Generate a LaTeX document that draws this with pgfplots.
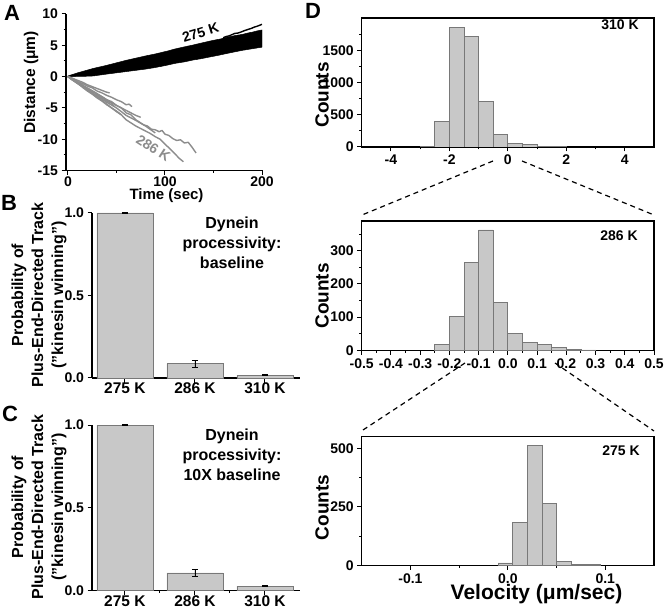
\documentclass[border=0pt]{standalone}
\usepackage{fontspec}
\setmainfont{Liberation Sans}
\usepackage{pgfplots}
\pgfplotsset{compat=1.18}
\newcommand\fs[2]{\fontsize{#1}{#2}\selectfont\bfseries}
\definecolor{barfill}{RGB}{200,200,200}
\definecolor{bardraw}{RGB}{120,120,120}
\definecolor{trace}{RGB}{140,140,140}
\pgfplotsset{
  mystyle/.style={
    scale only axis, enlargelimits=false,
    tick align=outside, tick pos=left,
    major tick length=4.5pt, minor tick length=2.5pt,
    tick style={black, line width=1pt},
    axis line style={black, line width=1.2pt},
    tick label style={font=\fs{14}{14}},
    /pgf/number format/assume math mode=true,
    /pgf/number format/1000 sep={},
  },
  barstyle/.style={ybar, bar width=0.8, fill=barfill, draw=bardraw, line width=0.8pt,
    error bars/.cd, y dir=both, y explicit,
    error bar style={black, line width=0.8pt},
    error mark options={black, rotate=90, mark size=3pt, line width=0.8pt}},
  histstyle/.style={ybar interval, fill=barfill, draw=bardraw, line width=0.8pt},
  tracestyle/.style={trace, line width=1.4pt, line join=round},
}
\begin{document}
\begin{tikzpicture}[x=1pt,y=1pt]
\useasboundingbox (0,0) rectangle (664,611);

% ---------------- Panel A ----------------
\begin{axis}[mystyle, at={(66pt,440.5pt)}, anchor=south west, width=196pt, height=156.5pt,
  axis x line*=bottom, axis y line*=left,
  xmin=-2, xmax=200, ymin=-15, ymax=10,
  xtick={0,100,200}, minor xtick={50,150},
  x tick label style={yshift=2pt},
  ytick={-15,-10,-5,0,5,10}, minor ytick={-12.5,-7.5,-2.5,2.5,7.5}]
\addplot[fill=black, draw=black, line width=0.5pt] coordinates {
 (0,0) (10,0.02) (18,0.05) (26,0.1) (33,0.25) (40,0.4) (50,0.6) (60,0.8) (70,1.0) (80,1.2)
 (88,1.4) (95,1.6) (103,1.85) (110,2.1) (120,2.35) (129,2.65) (137,2.85) (145,3.1) (155,3.4)
 (164,3.7) (172,3.95) (180,4.2) (190,4.45) (200,4.7)
 (200,7.45) (195,7.3) (190,7.1) (185,6.95) (180,6.75) (172,6.55) (164,6.3) (157,6.0) (150,5.8)
 (140,5.45) (129,5.05) (120,4.75) (110,4.4) (103,4.1) (95,3.8) (88,3.55) (80,3.3) (70,2.95)
 (60,2.6) (50,2.2) (40,1.8) (33,1.55) (26,1.3) (18,0.95) (10,0.6) (5,0.35) (0,0.1)
} -- cycle;
\addplot[black, line width=1.4pt] coordinates {
 (160,6.2) (163,6.4) (166,6.5) (169,6.7) (172,6.9) (175,6.95) (178,7.1) (182,7.35) (185,7.5)
 (189,7.7) (192,7.9) (196,8.1) (200,8.35)};
% 286 K traces
\addplot[tracestyle] coordinates {
 (0,0) (5,-0.5) (10,-1.0) (15,-1.4) (20,-2.0) (25,-2.3) (30,-2.9) (35,-3.2) (40,-3.7) (45,-4.0)
 (50,-4.6) (55,-5.0) (60,-5.8) (65,-6.1) (70,-6.9) (75,-7.4) (78,-7.7) (82,-7.9) (86,-8.4)
 (90,-8.5) (94,-8.8) (97,-8.6) (100,-9.2) (104,-9.4) (108,-9.9) (112,-10.2) (116,-10.1)
 (120,-10.6) (124,-10.5) (128,-11.3) (132,-12.2)};
\addplot[tracestyle] coordinates {
 (0,0) (5,-0.6) (10,-1.1) (15,-1.7) (20,-2.3) (25,-2.8) (30,-3.4) (35,-3.9) (40,-4.5) (45,-5.0)
 (50,-5.6) (55,-6.1) (60,-6.9) (65,-7.4) (70,-7.9) (75,-8.3) (80,-8.7) (85,-9.1) (90,-9.6)
 (95,-10.0) (100,-10.8) (105,-11.5) (110,-12.3) (115,-13.1) (119,-13.6)};
\addplot[tracestyle] coordinates {
 (0,0) (5,-0.5) (10,-1.0) (20,-2.1) (30,-3.1) (40,-4.1) (50,-5.0) (60,-6.2) (70,-7.0) (80,-7.9) (90,-9.0)};
\addplot[tracestyle] coordinates {
 (0,0) (5,-0.3) (10,-0.8) (15,-1.1) (20,-1.5) (25,-1.8) (30,-2.3) (35,-2.6) (40,-3.0) (45,-3.3)
 (50,-3.7) (55,-4.0) (60,-4.5) (63,-4.4) (66,-4.8)};
\addplot[tracestyle] coordinates {
 (0,0) (5,-0.3) (10,-0.6) (15,-0.9) (20,-1.3) (25,-1.6) (30,-1.9) (35,-2.2) (40,-2.5) (43,-2.6)};
\addplot[tracestyle] coordinates {
 (0,0) (5,-0.5) (10,-1.1) (15,-1.6) (20,-2.2) (25,-2.7) (30,-3.3) (35,-3.8) (40,-4.4) (45,-5.0) (50,-5.5) (55,-6.1)};
\addplot[tracestyle] coordinates {
 (0,0) (10,-0.9) (20,-1.8) (30,-2.7) (40,-3.7) (50,-4.6) (60,-5.4) (70,-6.2) (75,-6.5)};
\addplot[tracestyle] coordinates {
 (0,0) (4,-0.5) (8,-0.8) (12,-1.3) (16,-1.6) (20,-2.0) (24,-2.4) (28,-2.6) (32,-3.1) (36,-3.5) (40,-3.9) (44,-4.2) (48,-4.8)};
\addplot[tracestyle] coordinates {
 (0,0) (4,-0.4) (8,-0.9) (12,-1.2) (16,-1.8) (20,-2.1) (24,-2.6) (28,-3.0) (32,-3.4)};
\end{axis}

% ---------------- Panel B ----------------
\begin{axis}[mystyle, at={(92pt,233pt)}, anchor=south west, width=208pt, height=165pt,
  axis x line*=bottom, axis y line*=left, clip=false,
  xmin=-0.47, xmax=2.5, ymin=0, ymax=1,
  xtick={0,1,2}, xticklabels={275 K,286 K,310 K},
  x tick label style={font=\fs{15.5}{15.5}, yshift=3pt},
  ytick={0,0.5,1},
  yticklabel style={/pgf/number format/.cd, fixed, fixed zerofill, precision=1}]
\addplot[barstyle] coordinates {(0,1.0) +- (0,0.002) (1,0.087) +- (0,0.02) (2,0.016) +- (0,0.003)};
\end{axis}

% ---------------- Panel C ----------------
\begin{axis}[mystyle, at={(92pt,20.3pt)}, anchor=south west, width=208pt, height=165.7pt,
  axis x line*=bottom, axis y line*=left, clip=false,
  xmin=-0.47, xmax=2.5, ymin=0, ymax=1,
  xtick={0,1,2}, xticklabels={275 K,286 K,310 K}, minor xtick={0.5,1.5},
  x tick label style={font=\fs{15.5}{15.5}, yshift=3pt},
  ytick={0,0.5,1},
  yticklabel style={/pgf/number format/.cd, fixed, fixed zerofill, precision=1}]
\addplot[barstyle] coordinates {(0,1.0) +- (0,0.003) (1,0.107) +- (0,0.02) (2,0.028) +- (0,0.004)};
\end{axis}

% ---------------- Panel D top (310 K) ----------------
\begin{axis}[mystyle, at={(361.7pt,464pt)}, anchor=south west, width=292.3pt, height=129pt,
  xmin=-5, xmax=5, ymin=0, ymax=2000,
  xtick={-4,-2,0,2,4}, minor xtick={-3,-1,1,3},
  ytick={0,500,1000,1500}, minor ytick={250,750,1250,1750}]
\addplot[histstyle] coordinates {
 (-3.0,10) (-2.5,400) (-2.0,1850) (-1.5,1720) (-1.0,700) (-0.5,195) (0.0,52) (0.5,37) (1.0,12) (1.5,3) (2.0,0)};
\end{axis}

% ---------------- Panel D middle (286 K) ----------------
\begin{axis}[mystyle, at={(361.7pt,260.7pt)}, anchor=south west, width=292.3pt, height=129.3pt,
  xmin=-0.5, xmax=0.5, ymin=0, ymax=390,
  xtick={-0.5,-0.4,-0.3,-0.2,-0.1,0,0.1,0.2,0.3,0.4,0.5},
  minor xtick={-0.45,-0.35,-0.25,-0.15,-0.05,0.05,0.15,0.25,0.35,0.45},
  xticklabel style={/pgf/number format/.cd, fixed, fixed zerofill, precision=1},
  ytick={0,100,200,300}, minor ytick={50,150,250,350}]
\addplot[histstyle] coordinates {
 (-0.25,18) (-0.20,103) (-0.15,265) (-0.10,363) (-0.05,145) (0.00,52) (0.05,24) (0.10,18) (0.15,9) (0.20,2) (0.25,1) (0.30,0)};
\end{axis}

% ---------------- Panel D bottom (275 K) ----------------
\begin{axis}[mystyle, at={(361.7pt,45.7pt)}, anchor=south west, width=292.3pt, height=128.6pt,
  xmin=-0.15, xmax=0.15, ymin=0, ymax=550,
  xtick={-0.1,0,0.1}, minor xtick={-0.05,0.05},
  xticklabel style={/pgf/number format/.cd, fixed, fixed zerofill, precision=1},
  ytick={0,250,500}, minor ytick={125,375}]
\addplot[histstyle] coordinates {
 (-0.01,10) (0.005,183) (0.02,511) (0.035,266) (0.05,17) (0.065,3) (0.08,4) (0.095,0)};
\end{axis}

% ---------------- connectors ----------------
\begin{scope}[line width=1.2pt, dash pattern=on 5pt off 4pt]
\draw (493,450) -- (362,396);
\draw (522,450) -- (654,396);
\draw (465,248) -- (363,181);
\draw (555,248) -- (654,180);
\end{scope}

% ---------------- labels ----------------
\node[font=\fs{22}{22}] at (12,598) {A};
\node[font=\fs{22}{22}] at (9,408) {B};
\node[font=\fs{22}{22}] at (10,197.5) {C};
\node[font=\fs{22}{22}] at (313,600) {D};

\node[font=\fs{15.5}{15.5}, rotate=90] at (31,528.5) {Distance (μm)};
\node[font=\fs{15}{15}] at (166.5,415) {Time (sec)};
\node[font=\fs{14}{14}, rotate=17] at (200.5,578.5) {275 K};
\node[font=\fs{14}{14}, rotate=-33, text=trace] at (153.3,462.7) {286 K};

\node[font=\fs{16}{20}, rotate=90, align=center] at (39,316) {Probability of\\Plus-End-Directed Track\\("kinesin winning")};
\node[font=\fs{16}{20}, rotate=90, align=center] at (39,104) {Probability of\\Plus-End-Directed Track\\("kinesin winning")};
\node[font=\fs{16}{20}, align=center] at (232,368) {Dynein\\processivity:\\baseline};
\node[font=\fs{16}{20}, align=center] at (232,156) {Dynein\\processivity:\\10X baseline};

\node[font=\fs{19}{19}, rotate=90] at (322,516) {Counts};
\node[font=\fs{19}{19}, rotate=90] at (322,315) {Counts};
\node[font=\fs{19}{19}, rotate=90] at (322,103.5) {Counts};
\node[font=\fs{14}{14}] at (620,586) {310 K};
\node[font=\fs{14}{14}] at (619,375) {286 K};
\node[font=\fs{14}{14}] at (621,160) {275 K};
\node[font=\fs{21}{21}] at (536.5,17) {Velocity (μm/sec)};
\end{tikzpicture}
\end{document}
